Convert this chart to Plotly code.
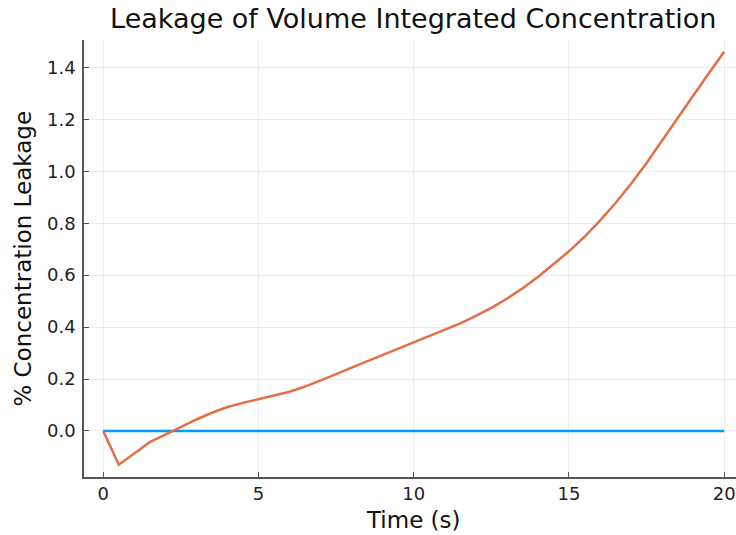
import plotly.graph_objects as go

# Time samples (s)
time_s = [0, 0.5, 1, 1.5, 2, 2.5, 3, 3.5, 4, 4.5, 5, 5.5, 6, 6.5, 7, 7.5, 8, 8.5, 9, 9.5,
          10, 10.5, 11, 11.5, 12, 12.5, 13, 13.5, 14, 14.5, 15, 15.5, 16, 16.5, 17, 17.5,
          18, 18.5, 19, 19.5, 20]

# Reference (zero) leakage
baseline = [0.0] * len(time_s)

# % concentration leakage
leakage = [0.0, -0.130, -0.087, -0.043, -0.014, 0.016, 0.044, 0.070, 0.092, 0.108,
           0.122, 0.135, 0.151, 0.171, 0.194, 0.219, 0.244, 0.268, 0.293, 0.318,
           0.342, 0.365, 0.389, 0.414, 0.443, 0.474, 0.509, 0.549, 0.593, 0.641,
           0.692, 0.748, 0.810, 0.878, 0.952, 1.032, 1.117, 1.204, 1.291, 1.377, 1.461]

x_ticks = [0, 5, 10, 15, 20]
y_ticks = [0.0, 0.2, 0.4, 0.6, 0.8, 1.0, 1.2, 1.4]

FONT = "DejaVu Sans"

fig = go.Figure()
fig.add_trace(go.Scatter(x=time_s, y=baseline, mode="lines",
                         line=dict(color="#009AFA", width=2.5), showlegend=False))
fig.add_trace(go.Scatter(x=time_s, y=leakage, mode="lines",
                         line=dict(color="#E26F46", width=2.5), showlegend=False))

axis_common = dict(
    showgrid=True, gridcolor="rgba(0,0,0,0.07)", gridwidth=1,
    showline=True, linecolor="#555555", linewidth=1.5,
    ticks="inside", ticklen=5, tickcolor="#555555", tickwidth=1,
    zeroline=False, mirror=False,
    tickfont=dict(family=FONT, size=18, color="#222222"),
)

fig.update_layout(
    width=736, height=535,
    margin=dict(l=84, r=0, t=40, b=58),
    paper_bgcolor="white", plot_bgcolor="white",
    xaxis=dict(range=[-0.62, 20.38], tickvals=x_ticks,
               ticktext=[str(v) for v in x_ticks], **axis_common),
    yaxis=dict(range=[-0.1775, 1.506], tickvals=y_ticks,
               ticktext=[f"{v:.1f}" for v in y_ticks], ticklabelstandoff=3,
               **axis_common),
    title=dict(text="Leakage of Volume Integrated Concentration",
               font=dict(family=FONT, size=27, color="#111111"),
               x=0.505, xref="paper", xanchor="center",
               y=0.966, yref="container", yanchor="middle"),
    annotations=[
        dict(text="Time (s)", xref="paper", yref="paper", x=0.505, y=-0.098,
             xanchor="center", yanchor="middle", showarrow=False,
             font=dict(family=FONT, size=23, color="#111111")),
        dict(text="% Concentration Leakage", xref="paper", yref="paper",
             x=-0.095, y=0.5, xanchor="center", yanchor="middle",
             textangle=-90, showarrow=False,
             font=dict(family=FONT, size=23, color="#111111")),
    ],
)

fig.write_html("out.html")
